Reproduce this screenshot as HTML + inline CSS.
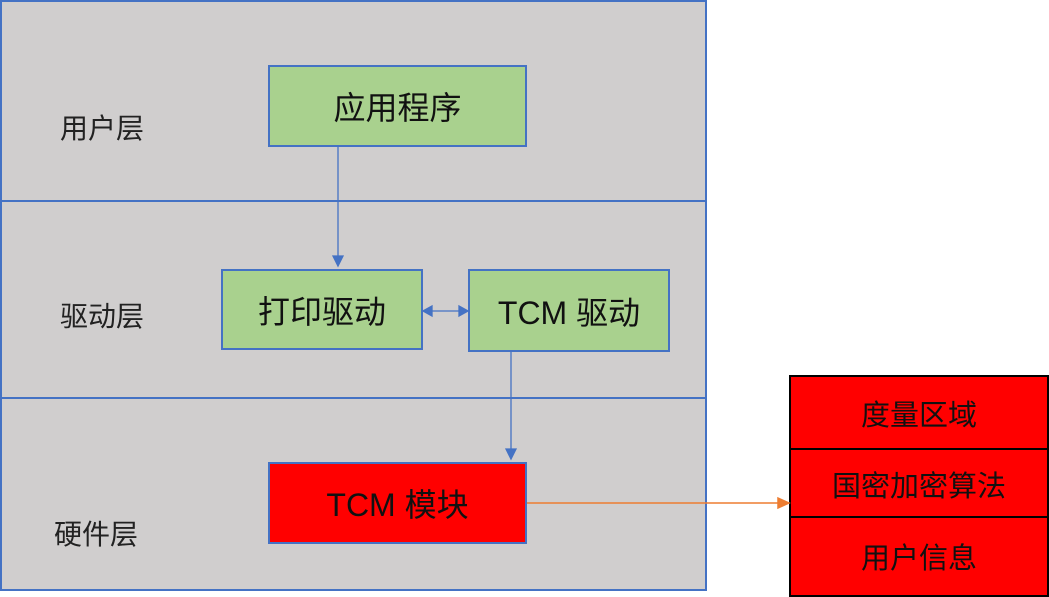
<!DOCTYPE html>
<html><head><meta charset="utf-8"><style>
body{margin:0;width:1049px;height:597px;background:#fff;position:relative;overflow:hidden;font-family:"Liberation Sans","Noto Sans CJK SC",sans-serif;}
.a{position:absolute;box-sizing:border-box;}
.layer{background:#d0cece;border:2px solid #4472c4;}
.lbl{position:absolute;font-size:28px;color:#222;line-height:1;}
.g{background:#a9d18e;border:2px solid #4472c4;display:flex;align-items:center;justify-content:center;font-size:32px;color:#111;}
.r{background:#ff0000;display:flex;align-items:center;justify-content:center;color:#111;}
</style></head><body>
<div class="a layer" style="left:0;top:0;width:707px;height:202px"></div>
<div class="a layer" style="left:0;top:200px;width:707px;height:199px"></div>
<div class="a layer" style="left:0;top:397px;width:707px;height:194px"></div>
<div class="lbl" style="left:60px;top:115px">用户层</div>
<div class="lbl" style="left:60px;top:303px">驱动层</div>
<div class="lbl" style="left:54px;top:521px">硬件层</div>
<div class="a g" style="left:268px;top:65px;width:259px;height:82px">应用程序</div>
<div class="a g" style="left:221px;top:269px;width:202px;height:81px">打印驱动</div>
<div class="a g" style="left:468px;top:269px;width:202px;height:83px">TCM 驱动</div>
<div class="a r" style="left:268px;top:462px;width:259px;height:82px;border:2px solid #4472c4;font-size:32px">TCM 模块</div>
<div class="a" style="left:789px;top:375px;width:260px;height:222px;border:2px solid #000;background:#ff0000"></div>
<div class="a r" style="left:791px;top:377px;width:256px;height:72px;font-size:29px">度量区域</div>
<div class="a" style="left:791px;top:448px;width:256px;height:2px;background:#000"></div>
<div class="a r" style="left:791px;top:450px;width:256px;height:67px;font-size:29px">国密加密算法</div>
<div class="a" style="left:791px;top:516px;width:256px;height:2px;background:#000"></div>
<div class="a r" style="left:791px;top:518px;width:256px;height:76px;font-size:29px">用户信息</div>
<svg class="a" style="left:0;top:0" width="1049" height="597">
<g stroke="#4472c4" stroke-width="1.3" fill="#4472c4">
<line x1="338" y1="147" x2="338" y2="258"/><polygon points="333,256 343,256 338,266"/>
<line x1="431" y1="311" x2="460" y2="311"/><polygon points="423,311 432,306 432,316"/><polygon points="468,311 459,306 459,316"/>
<line x1="511" y1="352" x2="511" y2="451"/><polygon points="506,449 516,449 511,459"/>
</g>
<g stroke="#ed7d31" stroke-width="1.5" fill="#ed7d31">
<line x1="527" y1="503" x2="780" y2="503"/><polygon points="778,498 789,503 778,508"/>
</g>
</svg>
</body></html>
